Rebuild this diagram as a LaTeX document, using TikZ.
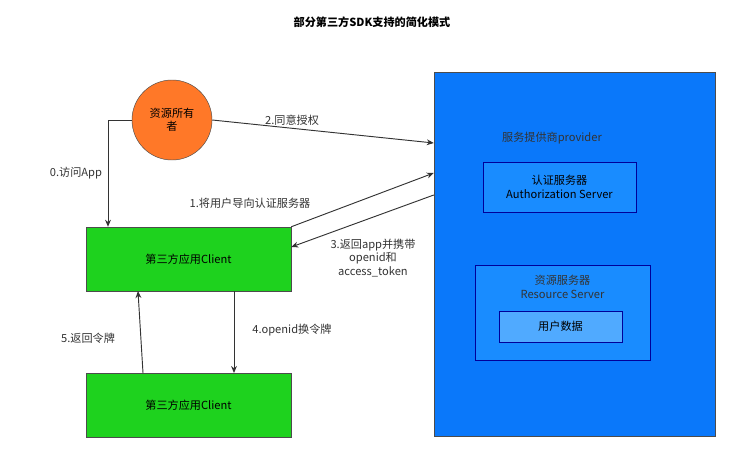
\documentclass[tikz,border=0pt]{standalone}
\usepackage{fontspec}
\setmainfont{Noto Sans CJK SC}
\usetikzlibrary{arrows.meta}

\definecolor{provblue}{RGB}{10,120,250}
\definecolor{srvblue}{RGB}{25,140,255}
\definecolor{datablue}{RGB}{80,170,255}
\definecolor{appgreen}{RGB}{30,210,30}
\definecolor{ownorange}{RGB}{255,120,40}

\begin{document}
\begin{tikzpicture}[x=0.03cm,y=-0.03cm,
    every node/.style={font=\fontsize{9.5}{11.5}\selectfont},
    app/.style={draw=black!70,fill=appgreen,minimum width=6.15cm,minimum height=1.92cm},
    srv/.style={draw=blue!60!black,fill=srvblue,align=center},
    lbl/.style={align=center,text=black!80},
    flow/.style={-{Stealth[length=6pt,width=5pt]},thick,black!80}]

    \useasboundingbox (0,0) rectangle (744,471);

    \node[font=\fontsize{9.5}{11.5}\selectfont\bfseries] (title) at (372,22) {部分第三方SDK支持的简化模式};

    % provider side
    \node[draw=black!70,fill=provblue,minimum width=8.43cm,minimum height=10.92cm] (prov) at (574.5,254) {};
    \node[lbl] (provname) at (552,138) {服务提供商provider};
    \node[srv,minimum width=4.59cm,minimum height=1.5cm] (auth) at (559.5,187) {认证服务器\\Authorization Server};
    \node[srv,minimum width=5.25cm,minimum height=2.85cm] (res) at (562.5,312.5) {};
    \node[lbl] (resname) at (562.5,287) {资源服务器\\Resource Server};
    \node[draw=blue!60!black,fill=datablue,minimum width=3.69cm,minimum height=0.93cm] (data) at (560.5,326.5) {用户数据};

    % owner and clients
    \node[circle,draw=black!70,fill=ownorange,minimum size=2.4cm,align=center] (owner) at (172,120) {资源所有\\者};
    \node[app] (client) at (188.5,259) {第三方应用Client};
    \node[app] (client2) at (188.5,405) {第三方应用Client};

    \coordinate (c0) at (108,120);
    \draw[flow] (owner.west) -- (c0) -- (c0 |- client.north);
    \node[lbl] (l0) at (76,173) {0.访问App};

    \draw[flow] (owner.east) -- (prov.west |- 0,143);
    \node[lbl] (l2) at (292,120) {2.同意授权};

    \draw[flow] (client.north east) -- (prov.west |- 0,173);
    \node[lbl] (l1) at (250,203) {1.将用户导向认证服务器};

    \draw[flow] (prov.west |- 0,195) -- (client.east |- 0,247);
    \node[lbl] (l3) at (373,258) {3.返回app并携带\\openid和\\access\_token};

    \draw[flow] (234,291) -- (234,373);
    \node[lbl] (l4) at (292,330) {4.openid换令牌};

    \draw[flow] (143,373) -- (138,291);
    \node[lbl] (l5) at (88,338) {5.返回令牌};

\end{tikzpicture}
\end{document}
